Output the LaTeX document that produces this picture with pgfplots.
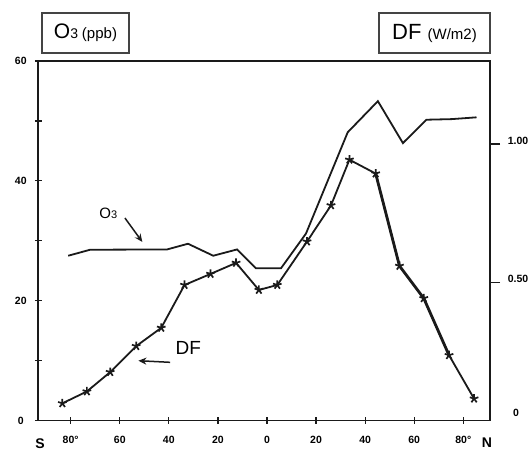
\documentclass[border=0pt]{standalone}
\usepackage{pgfplots}
\pgfplotsset{compat=1.18}
\usepackage{fontspec}
\setmainfont{Liberation Sans}
\usetikzlibrary{arrows.meta}
\definecolor{ink}{HTML}{1A1A1A}
\definecolor{boxc}{HTML}{444444}
\begin{document}
\begin{tikzpicture}[x=1pt,y=1pt]
\useasboundingbox (0,0) rectangle (531,453);
% ---------- left axis: O3 (ppb) ----------
\begin{axis}[
  at={(38.3pt,32.5pt)}, anchor=south west,
  scale only axis, width=451.7pt, height=359.5pt,
  xmin=-93.2, xmax=90.9, ymin=0, ymax=60,
  axis line style={ink, line width=1.8pt},
  tick align=center, major tick length=7pt,
  tick style={ink, line width=1.2pt},
  xtick={-80,-60,-40,-20,0,20,40,60,80},
  xticklabels={80°,60,40,20,0,20,40,60,80°},
  xtick pos=bottom,
  ytick={0,10,20,30,40,50,60},
  yticklabels={0,,20,,40,,60},
  ytick pos=left,
  xticklabel style={font=\fontsize{10.5}{12}\selectfont\bfseries, anchor=center, yshift=-16pt},
  yticklabel style={font=\fontsize{10.5}{12}\selectfont\bfseries, anchor=center, xshift=-14pt},
  clip=false,
]
\addplot[ink, line width=1.8pt] coordinates {
 (-81.0,27.5) (-72.1,28.5) (-40.7,28.55) (-32.2,29.5) (-21.9,27.5) (-12.2,28.55)
 (-4.5,25.4) (5.7,25.4) (15.9,31.2) (32.9,48.1) (45.2,53.3) (55.4,46.3)
 (65.0,50.2) (75.2,50.3) (85.4,50.6)};
\node[font=\fontsize{15}{15}\selectfont] at (axis cs:-64.7,34.6) {O\fontsize{11}{11}\selectfont 3};
\draw[ink, line width=1.5pt, -{Stealth[length=8pt,width=7pt]}] (axis cs:-57.9,33.8) -- (axis cs:-50.8,29.8);
\node[font=\fontsize{19}{19}\selectfont] at (axis cs:-32.1,12.05) {DF};
\draw[ink, line width=1.5pt, -{Stealth[length=8pt,width=7pt]}] (axis cs:-39.5,9.71) -- (axis cs:-52.4,9.98);
\end{axis}
% ---------- right axis: DF (W/m2) ----------
\begin{axis}[
  at={(38.3pt,32.5pt)}, anchor=south west,
  scale only axis, width=451.7pt, height=359.5pt,
  xmin=-93.2, xmax=90.9, ymin=0, ymax=1.3,
  axis x line=none, axis y line*=right,
  axis line style={ink, line width=1.8pt},
  tick align=outside, major tick length=10pt,
  tick style={ink, line width=1.2pt},
  ytick={0.5,1}, yticklabels={0.50,1.00},
  yticklabel style={font=\fontsize{10.5}{12}\selectfont\bfseries, anchor=center, xshift=18pt, yshift=3pt},
  clip=false,
]
\addplot[ink, line width=1.8pt, mark=star, mark size=4.5pt, mark options={line width=1.7pt}] coordinates {
 (-83.4,0.062) (-73.4,0.105) (-63.9,0.175) (-53.3,0.269) (-43.1,0.335) (-33.6,0.490)
 (-23.0,0.530) (-12.6,0.570) (-3.3,0.472) (4.2,0.490) (16.3,0.647) (26.1,0.778)
 (33.6,0.943) (44.3,0.893) (54.0,0.559) (63.9,0.442) (74.2,0.236) (84.4,0.079)};
\addplot[ink, line width=2.8pt] coordinates {
 (44.3,0.893) (54.0,0.559) (63.9,0.442) (74.2,0.236)};
\node[font=\fontsize{10.5}{12}\selectfont\bfseries] at (axis cs:90.9,0) [xshift=26pt, yshift=8pt] {0};
\end{axis}
% ---------- header boxes and hemisphere letters ----------
\draw[boxc, line width=1.2pt] (42,400) rectangle (129,440);
\node at (85.5,420) {\fontsize{21}{21}\selectfont O\fontsize{14}{14}\selectfont 3 \fontsize{15}{15}\selectfont(ppb)};
\draw[boxc, line width=1.2pt] (379,400) rectangle (490,440);
\node at (434.5,420) {\fontsize{22}{22}\selectfont DF \fontsize{15}{15}\selectfont(W/m2)};
\node[font=\fontsize{14}{14}\selectfont\bfseries] at (40,9) {S};
\node[font=\fontsize{14}{14}\selectfont\bfseries] at (487,10) {N};
\end{tikzpicture}
\end{document}
